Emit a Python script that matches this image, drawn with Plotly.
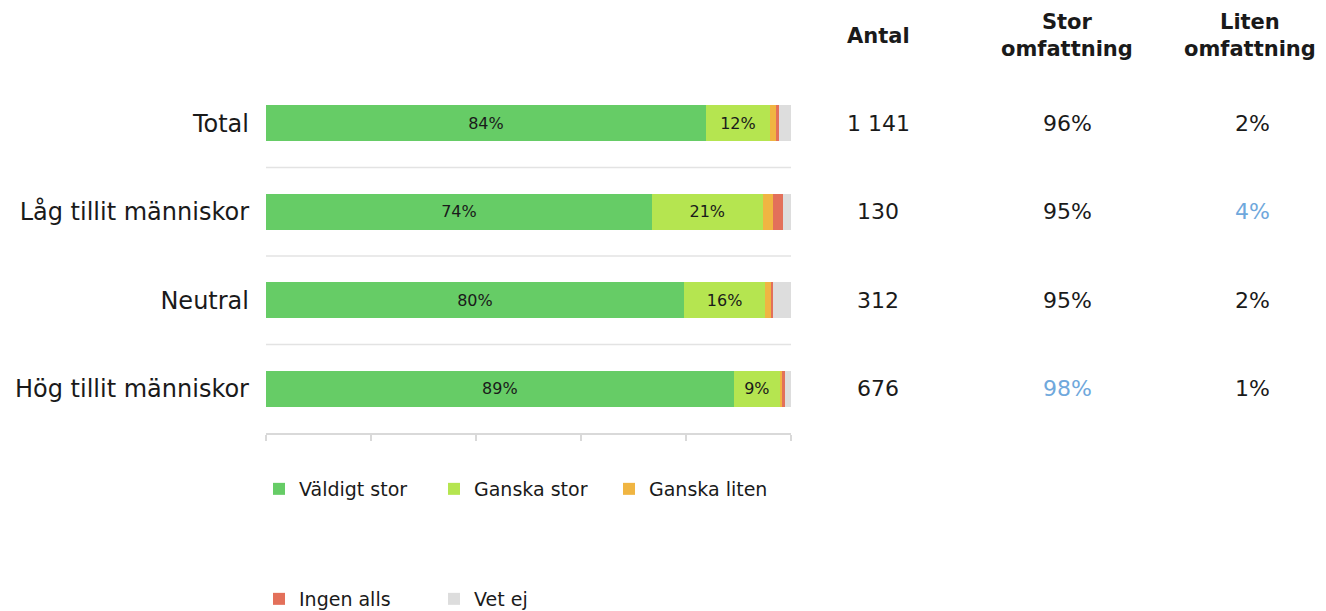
import plotly.graph_objects as go

categories = ["Total", "Låg tillit människor", "Neutral", "Hög tillit människor"]
series_names = ["Väldigt stor", "Ganska stor", "Ganska liten", "Ingen alls", "Vet ej"]
valdigt_stor = [83.8, 73.5, 79.6, 89.1]
ganska_stor = [12.2, 21.1, 15.5, 8.8]
ganska_liten = [1.1, 1.9, 1.1, 0.4]
ingen_alls = [0.6, 1.9, 0.4, 0.6]
vet_ej = [2.3, 1.6, 3.4, 1.1]
labels_valdigt_stor = ["84%", "74%", "80%", "89%"]
labels_ganska_stor = ["12%", "21%", "16%", "9%"]

antal = ["1 141", "130", "312", "676"]
stor_omfattning = ["96%", "95%", "95%", "98%"]
liten_omfattning = ["2%", "4%", "2%", "1%"]
stor_highlight = [False, False, False, True]
liten_highlight = [False, True, False, False]

col_headers = ["<b>Antal</b>", "<b>Stor<br>omfattning</b>", "<b>Liten<br>omfattning</b>"]

colors = ["#66CC66", "#B5E550", "#F0B542", "#E3705A", "#DDDDDD"]
FONT = "DejaVu Sans"
TXT = "#1a1a1a"
BLUE = "#6FA8DC"

values = [valdigt_stor, ganska_stor, ganska_liten, ingen_alls, vet_ej]
texts = [labels_valdigt_stor, labels_ganska_stor, None, None, None]

fig = go.Figure()
for i, (name, vals, col, txt) in enumerate(zip(series_names, values, colors, texts)):
    fig.add_trace(go.Bar(
        y=categories, x=vals, name=name, orientation="h",
        marker=dict(color=col, line=dict(width=0)),
        text=txt, textposition="inside" if txt else "none",
        insidetextanchor="middle",
        textfont=dict(family=FONT, size=16, color=TXT),
        legend="legend" if i < 3 else "legend2",
        hoverinfo="x+name",
    ))

# layout geometry (page pixels; the page body adds an 8px margin)
OFF = 8
W, H = 1326 - OFF, 611 - OFF
L, R = 266 - OFF, 791 - OFF
T, B = 79 - OFF, 433 - OFF

def px_x(px):
    return (px - OFF - L) / (R - L)

def px_y(py):
    return (B - (py - OFF)) / (B - T)

annotations = []
col_px = [878, 1067, 1252]
header_x = [878, 1067, 1250]
header_y = [36, 35, 35]
for hx, hy, head in zip(header_x, header_y, col_headers):
    annotations.append(dict(
        xref="paper", yref="paper", x=px_x(hx), y=px_y(hy),
        text=head, showarrow=False, xanchor="center", yanchor="middle",
        font=dict(family=FONT, size=21, color=TXT),
    ))

columns = [antal, stor_omfattning, liten_omfattning]
highlights = [[False] * len(categories), stor_highlight, liten_highlight]
for cx, col_vals, hl in zip(col_px, columns, highlights):
    for cat, v, h in zip(categories, col_vals, hl):
        annotations.append(dict(
            xref="paper", yref="y", x=px_x(cx), y=cat,
            text=v, showarrow=False, xanchor="center", yanchor="middle",
            font=dict(family=FONT, size=22, color=BLUE if h else TXT),
        ))

shapes = []
for k in range(len(categories) - 1):
    shapes.append(dict(
        type="line", xref="paper", yref="y", x0=0, x1=1,
        y0=k + 0.5, y1=k + 0.5, line=dict(color="#E3E3E3", width=1.5),
        layer="below",
    ))

fig.update_layout(
    width=W, height=H,
    margin=dict(l=L, r=W - R, t=T, b=H - B, pad=0, autoexpand=False),
    barmode="stack", bargap=0.59,
    plot_bgcolor="white", paper_bgcolor="white",
    font=dict(family=FONT, color=TXT),
    showlegend=True,
    xaxis=dict(
        range=[0, 100], tickvals=[0, 20, 40, 60, 80, 100], showticklabels=False,
        ticks="outside", ticklen=6, tickcolor="#D9D9D9", tickwidth=1.5,
        showgrid=False, zeroline=False, showline=True, linecolor="#D9D9D9", linewidth=1.5,
        fixedrange=True,
    ),
    yaxis=dict(
        autorange="reversed", showgrid=False, zeroline=False, showline=False,
        tickfont=dict(family=FONT, size=24, color=TXT), ticklabelstandoff=16,
        fixedrange=True,
    ),
    legend=dict(
        orientation="h", x=px_x(259), y=px_y(489), xanchor="left", yanchor="middle",
        entrywidth=130, entrywidthmode="pixels", traceorder="normal",
        font=dict(family=FONT, size=19, color=TXT), bgcolor="rgba(0,0,0,0)",
    ),
    legend2=dict(
        orientation="h", x=px_x(259), y=px_y(599), xanchor="left", yanchor="middle",
        entrywidth=130, entrywidthmode="pixels", traceorder="normal",
        font=dict(family=FONT, size=19, color=TXT), bgcolor="rgba(0,0,0,0)",
    ),
    annotations=annotations,
    shapes=shapes,
)

fig.write_html("out.html")
